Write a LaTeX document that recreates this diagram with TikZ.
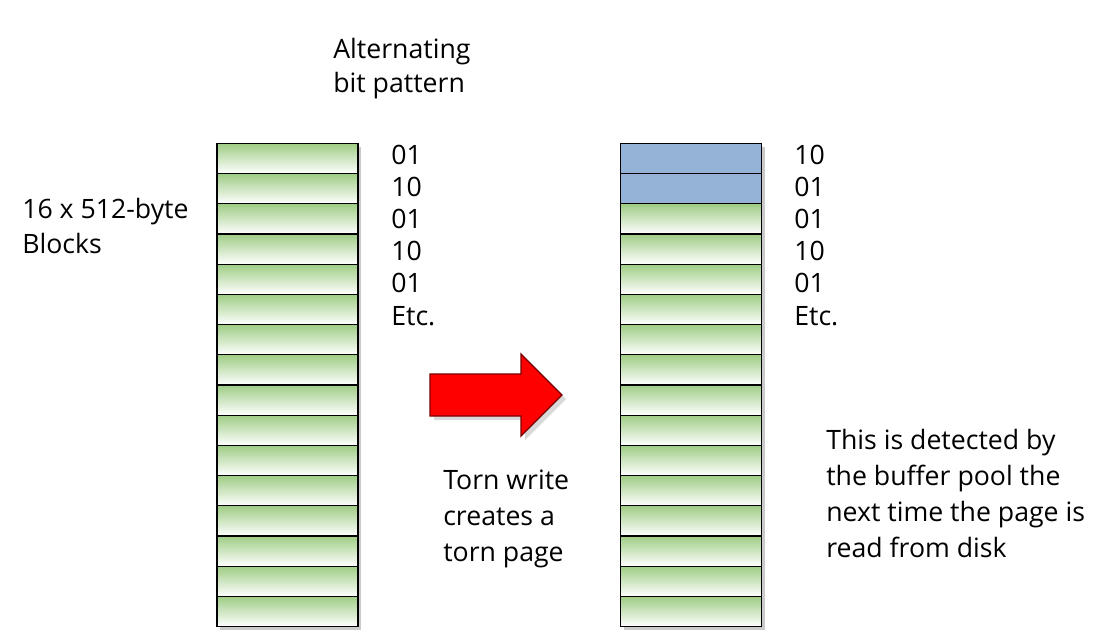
\documentclass[tikz,border=0pt]{standalone}
\usepackage{fontspec}
\setmainfont{Open Sans}
\usetikzlibrary{shadows}
\definecolor{blkgreen}{RGB}{158,204,132}
\definecolor{blkblue}{RGB}{149,179,215}
\definecolor{arrred}{RGB}{255,0,0}
\definecolor{arredge}{RGB}{120,0,0}
\tikzset{
  blk/.style={draw=black, line width=0.9pt, minimum width=105.75pt, minimum height=22.65pt,
    inner sep=0pt, outer sep=0pt, anchor=north west, top color=blkgreen, bottom color=white},
  blkb/.style={blk, top color=blkblue, bottom color=blkblue},
  lbl/.style={anchor=base west, inner sep=0pt, font=\fontsize{20}{24}\selectfont},
  stackframe/.style={draw=black, line width=1.2pt,
    drop shadow={shadow xshift=2.5pt, shadow yshift=-2.5pt, opacity=0.35, fill=black!60}},
}
\begin{document}
\begin{tikzpicture}[x=0.75pt, y=-0.75pt]
\useasboundingbox (0,0) rectangle (1106,636);
% stacks
\foreach \sx/\nm in {217/L, 620.5/R}{
  \path[stackframe, fill=white] (\sx,143.3) rectangle ++(141,483.2);
  \foreach \i in {1,...,16}{
    \node[blk] (\nm\i) at (\sx,{143.3+(\i-1)*30.2}) {};
  }
}
% torn blocks (blue) on the right
\node[blkb] (R1b) at (620.5,143.3) {};
\node[blkb] (R2b) at (620.5,173.5) {};
\foreach \sx in {217, 620.5}{
  \draw[line width=1.2pt] (\sx,143.3) rectangle ++(141,483.2);
}
% arrow
\draw[arredge, line width=1pt, fill=arrred,
  drop shadow={shadow xshift=3pt, shadow yshift=-3pt, opacity=0.3}]
  (430,374) -- (521,374) -- (521,354) -- (562,395) -- (521,436) -- (521,416) -- (430,416) -- cycle;
% texts
\node[lbl] (t1) at (333,58) {Alternating};
\node[lbl] (t2) at (333,92) {bit pattern};
\node[lbl] (t3) at (22,218) {16 x 512-byte};
\node[lbl] (t4) at (22,253) {Blocks};
\foreach \v [count=\k] in {01,10,01,10,01,Etc.}{
  \node[lbl] (ln\k) at (391,{164+(\k-1)*32.2}) {\v};
}
\foreach \v [count=\k] in {10,01,01,10,01,Etc.}{
  \node[lbl] (rn\k) at (794,{164+(\k-1)*32.2}) {\v};
}
\node[lbl] (w1) at (443,489) {Torn write};
\node[lbl] (w2) at (443,525) {creates a};
\node[lbl] (w3) at (443,561) {torn page};
\node[lbl] (d1) at (826,449) {This is detected by};
\node[lbl] (d2) at (826,485) {the buffer pool the};
\node[lbl] (d3) at (826,521) {next time the page is};
\node[lbl] (d4) at (826,557) {read from disk};
\end{tikzpicture}
\end{document}
